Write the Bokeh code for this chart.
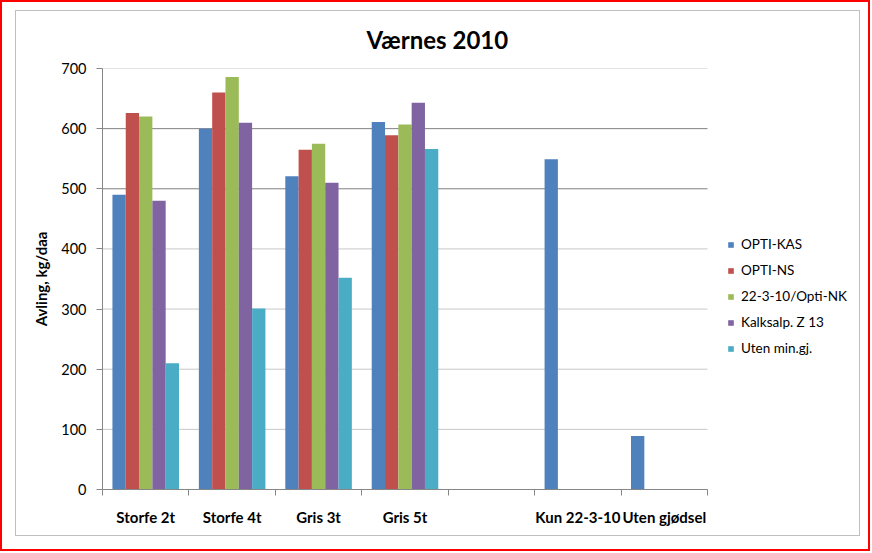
import math
from bokeh.plotting import figure
from bokeh.models import (Range1d, FixedTicker, Legend, LegendItem, ColumnDataSource, Title)
from bokeh.layouts import column
from bokeh.embed import file_html
from bokeh.resources import INLINE

# ---- data ----
categories = ["Storfe 2t", "Storfe 4t", "Gris 3t", "Gris 5t", "", "Kun 22-3-10", "Uten gjødsel"]
series_names = ["OPTI-KAS", "OPTI-NS", "22-3-10/Opti-NK", "Kalksalp. Z 13", "Uten min.gj."]
nan = float("nan")
opti_kas = [490, 600, 521, 611, nan, 549, 89]
opti_ns = [626, 660, 565, 589, nan, nan, nan]
opti_nk = [620, 686, 575, 607, nan, nan, nan]
kalksalp = [480, 610, 510, 643, nan, nan, nan]
uten_min = [210, 301, 352, 566, nan, nan, nan]
y_ticks = [0, 100, 200, 300, 400, 500, 600, 700]
dark_ticks = [500, 600]

series_values = [opti_kas, opti_ns, opti_nk, kalksalp, uten_min]
colors = ["#4F81BD", "#C0504D", "#9BBB59", "#8064A2", "#4BACC6"]

FONT = "Lato"

# frame: plot part is 605 px wide for the 7 categories, the rest of the frame holds the legend
W, H = 845, 526
ML, MT, MB = 86, 57, 48
n = len(categories)
x_end = n * (W - ML) / 605.0

p = figure(width=W, height=H, output_backend="svg", toolbar_location=None,
           x_range=Range1d(0, x_end), y_range=Range1d(0, 700),
           min_border_left=ML, min_border_right=0, min_border_top=MT, min_border_bottom=MB,
           outline_line_color=None, background_fill_color="white", border_fill_color="white")
p.styles = {"border": "1px solid #bfbfbf"}

p.title = Title(text="Værnes 2010", align="left", offset=264, standoff=26, vertical_align="top",
                text_font=FONT, text_font_size="24px", text_font_style="bold", text_color="#000000")

# gridlines limited to the category area
light = [t for t in y_ticks if t not in dark_ticks]
p.segment(x0=[0] * len(light), x1=[n] * len(light), y0=light, y1=light,
          line_color="#c8c8c8", line_width=1)
p.segment(x0=[0] * len(dark_ticks), x1=[n] * len(dark_ticks), y0=dark_ticks, y1=dark_ticks,
          line_color="#808080", line_width=1)

bar_w = 0.154
items = []
for i, (name, vals, col) in enumerate(zip(series_names, series_values, colors)):
    xs = [k + 0.5 + (i - 2) * bar_w for k in range(n)]
    src = ColumnDataSource(dict(x=[x for x, v in zip(xs, vals) if not math.isnan(v)],
                                top=[v for v in vals if not math.isnan(v)]))
    r = p.vbar(x="x", top="top", bottom=0, width=bar_w, source=src,
               fill_color=col, line_color=None)
    items.append(LegendItem(label=name, renderers=[r]))

# axes
xa = p.xaxis[0]
xa.bounds = (0, n)
xa.ticker = FixedTicker(ticks=[k + 0.5 for k in range(n)], minor_ticks=list(range(n + 1)))
xa.major_label_overrides = {k + 0.5: c for k, c in enumerate(categories)}
xa.major_tick_in = 0
xa.major_tick_out = 0
xa.minor_tick_in = 0
xa.minor_tick_out = 6
xa.minor_tick_line_color = "#868686"
xa.axis_line_color = "#868686"
xa.major_label_standoff = 12
xa.major_label_text_font = FONT
xa.major_label_text_font_size = "15px"
xa.major_label_text_font_style = "bold"
xa.major_label_text_color = "#000000"

ya = p.yaxis[0]
ya.ticker = FixedTicker(ticks=y_ticks)
ya.major_tick_in = 0
ya.major_tick_out = 6
ya.minor_tick_line_color = None
ya.major_tick_line_color = "#868686"
ya.axis_line_color = "#868686"
ya.major_label_standoff = 10
ya.major_label_text_font = FONT
ya.major_label_text_font_size = "14.5px"
ya.major_label_text_color = "#000000"
ya.axis_label = "Avling, kg/daa"
ya.axis_label_text_font = FONT
ya.axis_label_text_font_size = "15px"
ya.axis_label_text_font_style = "bold"
ya.axis_label_text_color = "#000000"
ya.axis_label_standoff = 8

p.xgrid.grid_line_color = None
p.ygrid.grid_line_color = None

legend = Legend(items=items, location=(625, 131), orientation="vertical",
                border_line_color=None, background_fill_alpha=0,
                label_text_font=FONT, label_text_font_size="13.5px", label_text_color="#000000",
                glyph_width=7, glyph_height=7, label_standoff=7, label_height=20,
                spacing=6, padding=0, margin=0)
p.add_layout(legend, "center")

layout = column(p, styles={"border": "2px solid #ff0000", "padding": "8px 8px 13px 13px",
                           "background-color": "white"})

open("out.html", "w").write(file_html(layout, INLINE))
